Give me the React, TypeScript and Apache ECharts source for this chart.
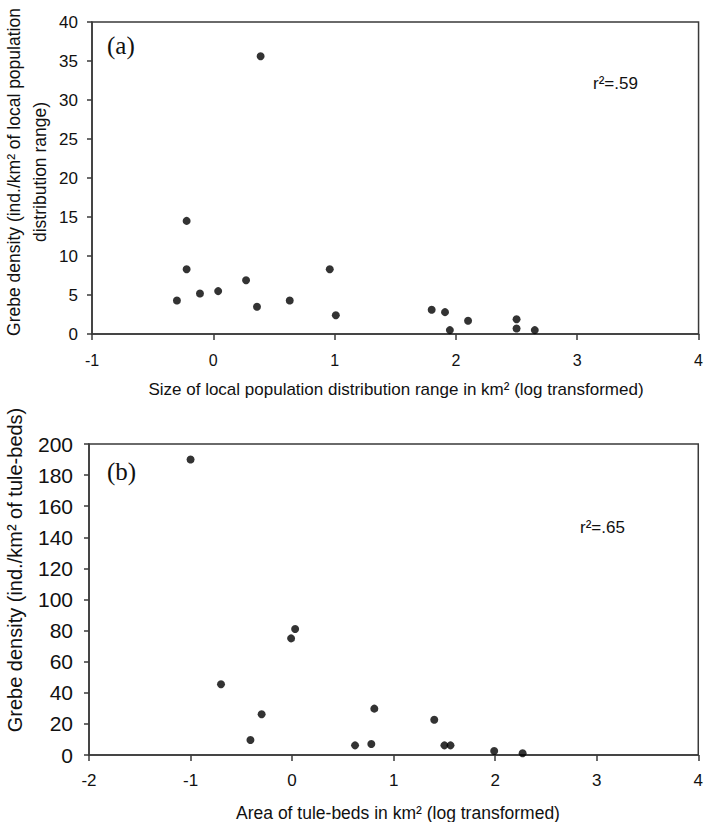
import React, { useEffect, useRef } from "react";
import * as echarts from "echarts";

// Panel (a): size of local population distribution range (log km²) vs grebe density
const rangeLogKm2 = [-0.30, -0.22, -0.22, -0.11, 0.04, 0.27, 0.36, 0.39, 0.63, 0.96, 1.01, 1.80, 1.91, 1.95, 2.10, 2.50, 2.50, 2.65];
const rangeDensity = [4.3, 14.5, 8.3, 5.2, 5.5, 6.9, 3.5, 35.6, 4.3, 8.3, 2.4, 3.1, 2.8, 0.5, 1.7, 1.9, 0.7, 0.5];

// Panel (b): area of tule-beds (log km²) vs grebe density
const tuleLogKm2 = [-1.0, -0.70, -0.41, -0.30, -0.01, 0.03, 0.62, 0.78, 0.81, 1.40, 1.50, 1.56, 1.99, 2.27];
const tuleDensity = [190, 45.5, 9.6, 26.2, 75, 81, 6.2, 7.1, 29.8, 22.7, 6.2, 6.2, 2.6, 1.1];

const axisA = { xMin: -1, xMax: 4, xStep: 1, yMin: 0, yMax: 40, yStep: 5 };
const axisB = { xMin: -2, xMax: 4, xStep: 1, yMin: 0, yMax: 200, yStep: 20 };

const labels = {
  aTag: "(a)",
  bTag: "(b)",
  aR2: "r²=.59",
  bR2: "r²=.65",
  aX: "Size of local population distribution range in km² (log transformed)",
  aY: "Grebe density (ind./km² of local population\ndistribution range)",
  bX: "Area of tule-beds in km² (log transformed)",
  bY: "Grebe density (ind./km² of tule-beds)",
};

const SANS = '"Liberation Sans", Arial, sans-serif';
const SERIF = '"Liberation Serif", "Times New Roman", serif';
const LINE = "#3a3a3a";

export default function App() {
  const ref = useRef<HTMLDivElement>(null);

  useEffect(() => {
    document.body.style.margin = "0";
    if (!ref.current) return;
    const chart = echarts.init(ref.current, null, { renderer: "svg" });

    const axisLine = { show: true, onZero: false, lineStyle: { color: LINE, width: 1.5 } };
    const axisTick = { show: true, length: 6, inside: false, lineStyle: { color: LINE, width: 1.5 } };

    const mkX = (a: any, gridIndex: number, fontSize: number, margin: number) => ({
      type: "value",
      gridIndex,
      min: a.xMin,
      max: a.xMax,
      interval: a.xStep,
      axisLine,
      axisTick,
      splitLine: { show: false },
      axisLabel: { color: "#111", fontFamily: SANS, fontSize, margin },
    });
    const mkY = (a: any, gridIndex: number, fontSize: number, margin: number) => ({
      type: "value",
      gridIndex,
      min: a.yMin,
      max: a.yMax,
      interval: a.yStep,
      axisLine,
      axisTick: { ...axisTick, length: 5 },
      splitLine: { show: false },
      axisLabel: { color: "#111", fontFamily: SANS, fontSize, margin },
    });

    const text = (t: string, x: number, y: number, opts: any = {}) => ({
      type: "text",
      x,
      y,
      rotation: opts.rotation || 0,
      style: {
        text: t,
        fill: "#111",
        font: `${opts.size || 17}px ${opts.family || SANS}`,
        textAlign: opts.align || "center",
        textVerticalAlign: "middle",
        lineHeight: opts.lineHeight,
      },
    });

    chart.setOption({
      animation: false,
      grid: [
        { left: 92, top: 22, width: 610, height: 312, show: true, borderColor: LINE, borderWidth: 1.5, backgroundColor: "transparent" },
        { left: 89, top: 444, width: 613, height: 311, show: true, borderColor: LINE, borderWidth: 1.5, backgroundColor: "transparent" },
      ],
      xAxis: [mkX(axisA, 0, 16, 18), mkX(axisB, 1, 17, 17)],
      yAxis: [mkY(axisA, 0, 17, 14), mkY(axisB, 1, 21, 16)],
      series: [
        {
          type: "scatter",
          xAxisIndex: 0,
          yAxisIndex: 0,
          symbol: "circle",
          symbolSize: 8,
          itemStyle: { color: "#000" },
          data: rangeLogKm2.map((x, i) => [x, rangeDensity[i]]),
        },
        {
          type: "scatter",
          xAxisIndex: 1,
          yAxisIndex: 1,
          symbol: "circle",
          symbolSize: 8,
          itemStyle: { color: "#000" },
          data: tuleLogKm2.map((x, i) => [x, tuleDensity[i]]),
        },
      ],
      graphic: [
        text(labels.aTag, 107, 45, { size: 25, family: SERIF, align: "left" }),
        text(labels.bTag, 107, 471, { size: 25, family: SERIF, align: "left" }),
        text(labels.aR2, 593, 83, { align: "left" }),
        text(labels.bR2, 580, 527, { align: "left" }),
        text(labels.aX, 396, 389, { size: 17 }),
        text(labels.bX, 398, 813, { size: 17.5 }),
        text(labels.aY, 27, 172, { size: 17.5, rotation: Math.PI / 2, lineHeight: 26 }),
        text(labels.bY, 15, 570, { size: 20, rotation: Math.PI / 2 }),
      ],
    });

    return () => chart.dispose();
  }, []);

  return <div ref={ref} style={{ width: 706, height: 822 }} />;
}
